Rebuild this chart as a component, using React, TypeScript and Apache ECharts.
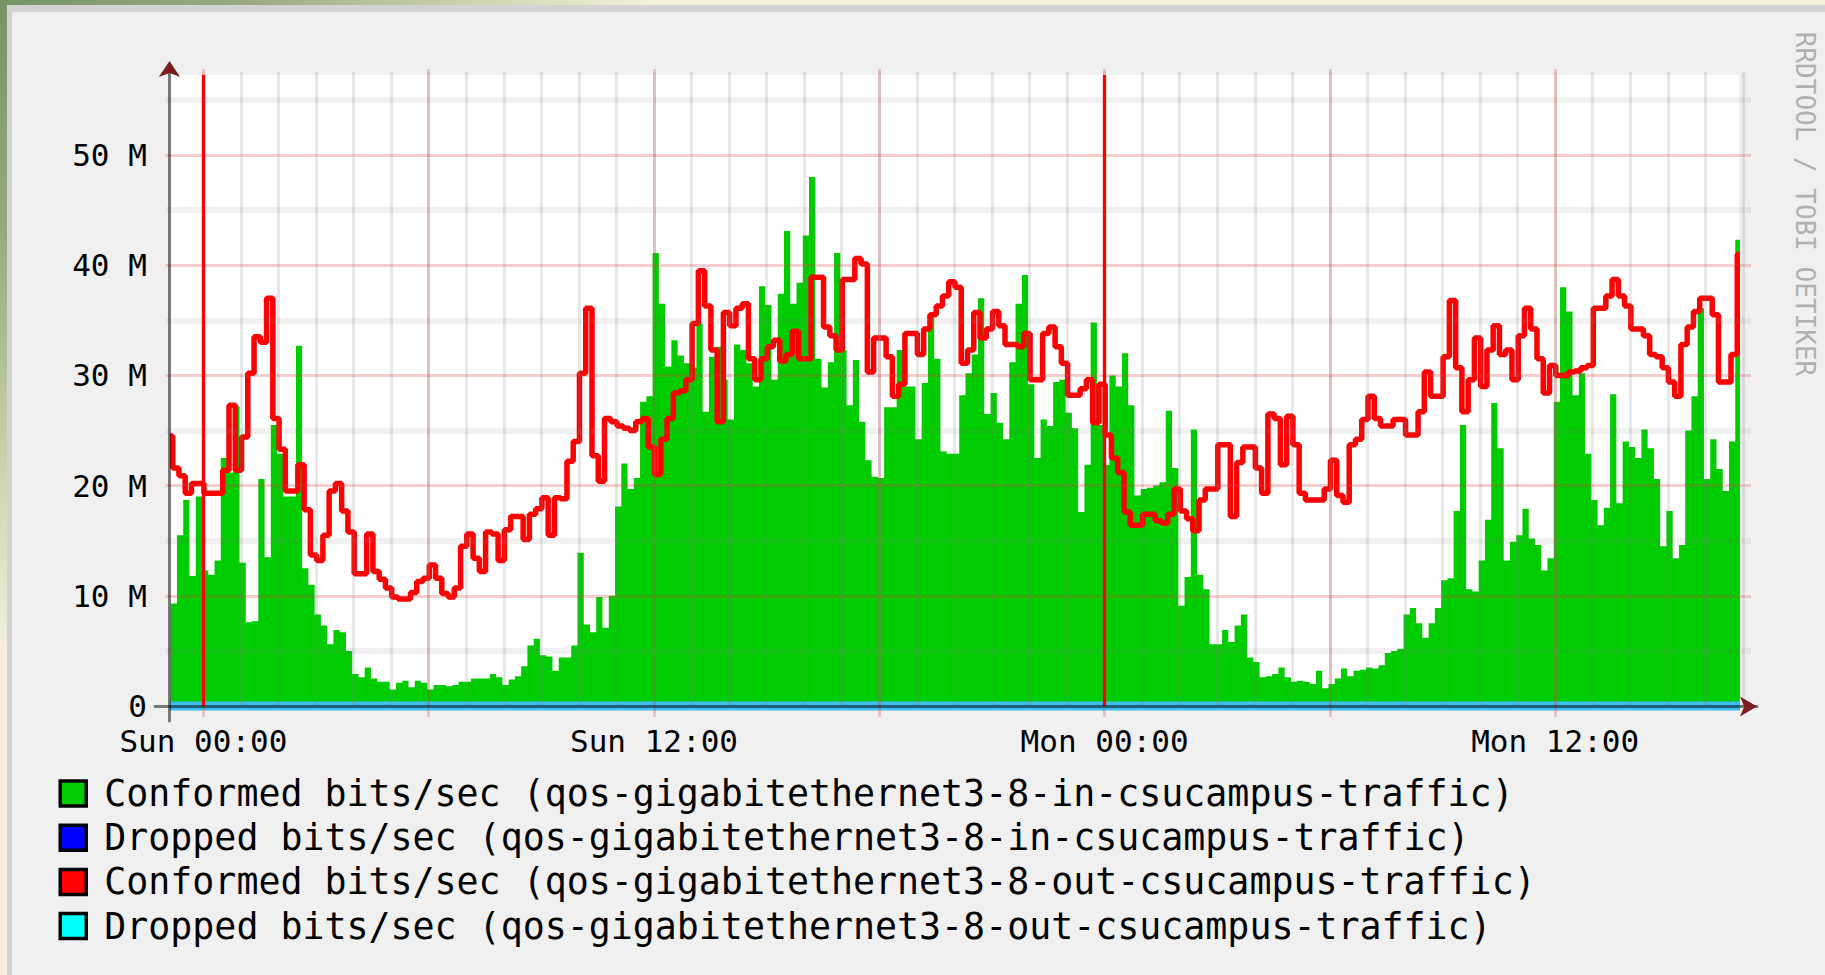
import React, { useEffect, useRef } from "react";
import * as echarts from "echarts";

// ---- time axis (hours relative to Sun 00:00) ----
const STEP_H = 1 / 6; // 10-minute consolidation step
const GREEN_T0 = -0.871; // start of first "in" bin
const RED_T0 = -0.818; // start of first "out" bin
const T_START = -0.893; // left edge of the graph
const T_END = 40.92; // right edge of the data
const RED_START = 24.5; // first "out" value, before RED_T0

const X_TICK_HOURS = [0, 12, 24, 36];
const X_TICK_LABELS = ["Sun 00:00", "Sun 12:00", "Mon 00:00", "Mon 12:00"];

const Y_MAX = 57.26; // Mbit/s at the top edge
const Y_LABEL_UNIT = " M";

const SERIES_NAMES = [
  "Conformed bits/sec (qos-gigabitethernet3-8-in-csucampus-traffic)",
  "Dropped bits/sec (qos-gigabitethernet3-8-in-csucampus-traffic)",
  "Conformed bits/sec (qos-gigabitethernet3-8-out-csucampus-traffic)",
  "Dropped bits/sec (qos-gigabitethernet3-8-out-csucampus-traffic)",
];

// Conformed in (Mbit/s), one value per 10 minutes
const CONFORMED_IN = [
  9.3, 15.5, 18.7, 11.8, 19.0, 12.3, 11.9, 13.2, 22.5, 21.2,
  27.2, 13.0, 7.6, 7.7, 20.6, 13.5, 25.5, 22.9, 19.0, 19.0,
  32.7, 12.5, 11.0, 8.3, 7.3, 5.6, 6.9, 6.7, 5.0, 2.9,
  2.6, 3.5, 2.5, 2.2, 2.2, 1.5, 2.1, 2.3, 1.7, 2.3,
  2.1, 1.5, 1.9, 1.9, 1.8, 1.9, 2.2, 2.2, 2.5, 2.5,
  2.5, 2.9, 2.6, 1.9, 2.4, 2.7, 3.6, 5.5, 6.1, 4.6,
  4.5, 3.2, 4.4, 4.4, 5.5, 13.9, 7.4, 6.7, 9.9, 7.1,
  10.0, 18.1, 22.0, 19.7, 20.7, 27.6, 28.1, 41.1, 36.5, 30.8,
  33.2, 31.8, 31.1, 30.7, 34.7, 26.7, 31.7, 32.6, 29.6, 26.0,
  32.8, 32.3, 31.1, 29.0, 38.1, 36.4, 29.6, 37.4, 43.1, 36.5,
  38.4, 42.7, 48.0, 31.5, 28.9, 31.2, 41.1, 32.3, 27.3, 31.4,
  25.8, 22.3, 20.8, 20.7, 27.1, 27.1, 32.3, 29.0, 29.0, 24.2,
  29.3, 35.4, 31.5, 23.1, 22.9, 22.9, 28.2, 30.2, 31.9, 37.0,
  26.5, 28.4, 25.7, 24.2, 31.2, 36.5, 39.1, 29.2, 22.5, 26.0,
  25.4, 29.4, 29.6, 26.6, 25.2, 17.6, 21.9, 34.8, 25.5, 21.9,
  30.0, 29.0, 32.0, 27.3, 19.1, 19.7, 19.8, 20.0, 20.3, 26.8,
  21.6, 9.1, 11.7, 25.1, 11.9, 10.6, 5.6, 5.6, 6.9, 5.8,
  7.3, 8.3, 4.4, 4.0, 2.6, 2.7, 2.9, 3.5, 2.6, 2.2,
  2.3, 2.2, 2.0, 3.2, 1.6, 2.0, 2.5, 3.4, 2.7, 3.2,
  3.3, 3.5, 3.4, 3.7, 4.8, 5.0, 5.2, 8.3, 8.9, 7.5,
  6.2, 7.5, 8.9, 11.4, 11.6, 17.7, 25.5, 10.6, 10.4, 13.2,
  16.9, 27.5, 23.4, 13.2, 14.9, 15.5, 17.9, 15.2, 14.6, 12.3,
  13.4, 27.6, 38.0, 35.8, 28.2, 30.2, 22.9, 18.7, 16.4, 18.0,
  28.3, 18.4, 24.0, 23.5, 22.5, 25.1, 23.4, 20.6, 14.5, 17.7,
  13.4, 14.6, 25.0, 28.1, 36.1, 20.6, 24.2, 21.5, 19.5, 24.0,
  42.3,
];

// Conformed out (Mbit/s), one value per 10 minutes
const CONFORMED_OUT = [
  21.6, 20.9, 19.3, 20.2, 20.2, 19.3, 19.3, 19.3, 21.4, 27.3,
  21.4, 24.4, 30.2, 33.5, 33.0, 37.0, 26.1, 23.3, 19.5, 19.5,
  21.9, 17.8, 13.7, 13.2, 15.5, 19.5, 20.2, 17.7, 15.8, 12.0,
  12.0, 15.6, 12.2, 11.5, 10.7, 9.9, 9.7, 9.7, 10.3, 11.3,
  11.6, 12.8, 11.6, 10.2, 9.9, 10.7, 14.5, 15.6, 13.4, 12.2,
  15.8, 15.6, 13.2, 16.0, 17.2, 17.2, 15.1, 17.4, 17.9, 18.9,
  15.5, 18.9, 18.8, 22.2, 24.0, 30.2, 36.1, 22.7, 20.4, 26.1,
  25.8, 25.4, 25.2, 25.0, 25.8, 26.1, 23.5, 21.0, 24.2, 26.1,
  28.4, 28.6, 29.6, 34.7, 39.5, 36.3, 32.3, 25.8, 35.7, 34.5,
  36.1, 36.5, 31.5, 29.6, 31.5, 32.6, 33.2, 31.3, 31.9, 34.0,
  31.5, 31.5, 38.9, 38.9, 34.4, 33.6, 32.3, 38.7, 38.7, 40.6,
  40.1, 30.3, 33.4, 33.4, 31.7, 28.1, 29.2, 33.8, 33.8, 31.9,
  34.2, 35.5, 36.3, 37.2, 38.5, 38.0, 31.1, 32.3, 35.7, 33.4,
  34.2, 35.8, 34.5, 32.8, 32.8, 32.6, 33.8, 29.6, 29.6, 33.8,
  34.4, 32.6, 31.1, 28.2, 28.2, 28.8, 29.6, 25.7, 29.2, 24.6,
  22.5, 21.2, 17.6, 16.4, 16.4, 17.4, 17.4, 16.8, 16.6, 17.4,
  19.7, 17.7, 17.0, 15.9, 18.7, 19.7, 19.7, 23.7, 23.7, 17.2,
  22.1, 23.5, 23.5, 21.6, 19.3, 26.5, 26.1, 21.9, 26.3, 23.7,
  19.3, 18.7, 18.7, 18.7, 19.7, 22.3, 19.1, 18.5, 23.7, 24.2,
  26.0, 28.1, 26.1, 25.4, 25.4, 26.0, 26.0, 24.6, 24.6, 26.7,
  30.3, 28.1, 28.1, 31.7, 36.8, 30.7, 26.7, 29.6, 33.4, 29.0,
  32.3, 34.5, 31.9, 32.3, 29.6, 33.6, 36.1, 34.2, 31.5, 28.4,
  30.9, 30.0, 30.0, 30.3, 30.4, 30.7, 30.9, 36.1, 36.1, 37.2,
  38.7, 37.2, 36.3, 34.2, 34.2, 33.6, 31.9, 31.7, 30.7, 29.4,
  28.1, 32.8, 34.4, 35.8, 37.0, 37.0, 35.5, 29.4, 29.4, 31.9,
  41.0,
];

// Dropped traffic was zero for the whole period
const DROPPED_LEVEL = 0;

// ---- colours ----
const C_GREEN = "#00cc00";
const C_BLUE = "#0000ff";
const C_RED = "#ff0000";
const C_CYAN = "#00ffff";
const C_DROP_LINE = "#3dbdf0";
const C_MGRID = "rgba(220,60,60,0.25)";
const C_GRID = "rgba(128,128,128,0.18)";
const C_MINOR = "rgba(128,128,128,0.11)";
const C_AXIS = "rgba(0,0,0,0.5)";
const C_ARROW = "#7d1e1e";
const FONT = "DejaVu Sans Mono";

// ---- layout ----
const PLOT_RIGHT = 74; // px from right edge of the page
const X_MAX_H = 41.215; // hour value at the right end of the grids

function buildOption() {
  const inData: number[][] = CONFORMED_IN.map((v, i) => [GREEN_T0 + i * STEP_H, v]);
  inData.push([T_END, CONFORMED_IN[CONFORMED_IN.length - 1]]);

  const outData: number[][] = [[T_START, RED_START]];
  CONFORMED_OUT.forEach((v, i) => outData.push([RED_T0 + i * STEP_H, v]));
  outData.push([T_END, CONFORMED_OUT[CONFORMED_OUT.length - 1]]);

  const dropData = [
    [T_START, DROPPED_LEVEL],
    [T_END, DROPPED_LEVEL],
  ];

  const hidden = { show: false };
  const bare = {
    axisLine: { show: false },
    axisTick: { show: false },
    axisLabel: { show: false },
  };

  return {
    animation: false,
    backgroundColor: "transparent",
    grid: [
      { left: 165.85, right: PLOT_RIGHT, top: 75, bottom: 269 }, // 0 main plot (x from -1 h)
      { left: 203.4, right: PLOT_RIGHT, top: 69, bottom: 258 }, // 1 six-hour lines (x from 0 h)
      { left: 203.4, right: PLOT_RIGHT, top: 75, bottom: 269 }, // 2 midnight lines
      { left: 203.4, right: PLOT_RIGHT, top: 75, bottom: 269 }, // 3 time labels
      { left: 165.85, right: PLOT_RIGHT, top: 72, bottom: 269 }, // 4 hourly lines
      { left: 169.5, right: PLOT_RIGHT, top: 69, bottom: 254 }, // 5 y axis line
      { left: 155, right: 68, top: 75, bottom: 268.5 }, // 6 x axis line
    ],
    xAxis: [
      { gridIndex: 0, type: "value", position: "bottom", min: -1, max: X_MAX_H, ...bare, splitLine: { show: false } },
      {
        gridIndex: 1, type: "value", position: "bottom", min: 0, max: X_MAX_H, interval: 6, z: 5, ...bare,
        splitLine: { show: true, showMinLine: true, showMaxLine: false, lineStyle: { color: C_MGRID, width: 3 } },
      },
      {
        gridIndex: 2, type: "value", position: "bottom", min: 0, max: X_MAX_H, interval: 24, z: 6, ...bare,
        splitLine: { show: true, showMinLine: true, showMaxLine: false, lineStyle: { color: C_RED, width: 3.3 } },
      },
      {
        gridIndex: 3, type: "value", position: "bottom", min: 0, max: X_MAX_H, interval: 12,
        axisLine: { show: false }, axisTick: { show: false }, splitLine: { show: false },
        axisLabel: {
          show: true, margin: 19, showMinLabel: true, showMaxLabel: false,
          fontFamily: FONT, fontSize: 31, color: "#000",
          formatter: (v: number) => {
            const i = X_TICK_HOURS.indexOf(v);
            return i >= 0 ? X_TICK_LABELS[i] : "";
          },
        },
      },
      {
        gridIndex: 4, type: "value", position: "bottom", min: -1, max: X_MAX_H, interval: 1, z: 5, ...bare,
        splitLine: { show: true, showMinLine: false, showMaxLine: false, lineStyle: { color: C_GRID, width: 3 } },
      },
      { gridIndex: 5, type: "value", position: "bottom", min: 0, max: 1, ...hidden },
      {
        gridIndex: 6, type: "value", position: "bottom", min: 0, max: 1, z: 7,
        axisLine: { show: true, onZero: false, lineStyle: { color: C_AXIS, width: 3 } },
        axisTick: { show: false }, axisLabel: { show: false }, splitLine: { show: false },
      },
      {
        gridIndex: 6, type: "value", position: "bottom", offset: 0, min: 0, max: 1, z: 8,
        axisLine: {
          show: true, onZero: false, lineStyle: { color: C_ARROW, width: 0 },
          symbol: ["none", "arrow"], symbolSize: [15, 17], symbolOffset: [0, 0],
        },
        axisTick: { show: false }, axisLabel: { show: false }, splitLine: { show: false },
      },
    ],
    yAxis: [
      {
        gridIndex: 0, type: "value", position: "left", min: 0, max: Y_MAX, interval: 10, z: 5,
        axisLine: { show: false }, axisTick: { show: false },
        axisLabel: {
          show: true, margin: 19, showMaxLabel: false,
          fontFamily: FONT, fontSize: 31, color: "#000", padding: [0, 0, 10, 0],
          formatter: (v: number) => (v === 0 ? "0" : `${v}${Y_LABEL_UNIT}`),
        },
        splitLine: { show: true, showMinLine: false, showMaxLine: false, lineStyle: { color: C_MGRID, width: 3 } },
      },
      {
        gridIndex: 0, type: "value", position: "left", min: 0, max: Y_MAX, interval: 5, z: 4, ...bare,
        splitLine: { show: true, lineStyle: { color: ["rgba(0,0,0,0)", C_MINOR], width: 6 } },
      },
      { gridIndex: 1, type: "value", position: "left", min: 0, max: 1, ...hidden },
      { gridIndex: 2, type: "value", position: "left", min: 0, max: 1, ...hidden },
      { gridIndex: 3, type: "value", position: "left", min: 0, max: 1, ...hidden },
      { gridIndex: 4, type: "value", position: "left", min: 0, max: 1, ...hidden },
      {
        gridIndex: 5, type: "value", position: "left", min: 0, max: 1, z: 7,
        axisLine: { show: true, onZero: false, lineStyle: { color: C_AXIS, width: 3 } },
        axisTick: { show: false }, axisLabel: { show: false }, splitLine: { show: false },
      },
      {
        gridIndex: 5, type: "value", position: "left", offset: 0, min: 0, max: 1, z: 8,
        axisLine: {
          show: true, onZero: false, lineStyle: { color: C_ARROW, width: 0 },
          symbol: ["none", "arrow"], symbolSize: [16, 16], symbolOffset: [0, 8],
        },
        axisTick: { show: false }, axisLabel: { show: false }, splitLine: { show: false },
      },
      { gridIndex: 6, type: "value", position: "left", min: 0, max: 1, ...hidden },
    ],
    legend: {
      orient: "vertical",
      left: 58.5,
      top: 775,
      padding: 0,
      itemWidth: 26,
      itemHeight: 25,
      itemGap: 7.2,
      icon: "rect",
      selectedMode: false,
      itemStyle: { borderColor: "#000", borderWidth: 3.5 },
      textStyle: { fontFamily: FONT, fontSize: 36.6, color: "#000", padding: [0, 0, 0, 13] },
      data: SERIES_NAMES,
    },
    graphic: {
      elements: [
        {
          type: "rect", z: -10, silent: true,
          shape: { x: 170.5, y: 75, width: 1568.5, height: 631 },
          style: { fill: "#ffffff" },
        },
        {
          type: "text", x: 1805, y: 204, rotation: -Math.PI / 2, silent: true,
          style: {
            text: "RRDTOOL / TOBI OETIKER",
            font: `26px "${FONT}"`,
            fill: "#b0b0b0",
            textAlign: "center", textVerticalAlign: "middle",
            align: "center", verticalAlign: "middle",
          },
        },
      ],
    },
    series: [
      {
        name: SERIES_NAMES[0], type: "line", xAxisIndex: 0, yAxisIndex: 0,
        step: "end", symbol: "none", data: inData, z: 2,
        color: C_GREEN, itemStyle: { color: C_GREEN },
        lineStyle: { width: 0, color: C_GREEN },
        areaStyle: { color: C_GREEN, opacity: 1 },
      },
      {
        name: SERIES_NAMES[1], type: "line", xAxisIndex: 0, yAxisIndex: 0,
        symbol: "none", data: dropData, z: 2, clip: false,
        color: C_BLUE, itemStyle: { color: C_BLUE },
        lineStyle: { width: 0, color: C_BLUE },
      },
      {
        name: SERIES_NAMES[2], type: "line", xAxisIndex: 0, yAxisIndex: 0,
        step: "end", symbol: "none", data: outData, z: 3,
        color: C_RED, itemStyle: { color: C_RED },
        lineStyle: { width: 5.5, color: C_RED },
      },
      {
        name: SERIES_NAMES[3], type: "line", xAxisIndex: 0, yAxisIndex: 0,
        symbol: "none", data: dropData, z: 3, clip: false,
        color: C_CYAN, itemStyle: { color: C_CYAN },
        lineStyle: { width: 9, color: C_DROP_LINE },
      },
    ],
  };
}

export default function App() {
  const ref = useRef<HTMLDivElement>(null);
  useEffect(() => {
    if (!ref.current) return;
    const chart = echarts.init(ref.current, undefined, { renderer: "svg" });
    chart.setOption(buildOption() as any);
    return () => chart.dispose();
  }, []);
  return (
    <div
      style={{
        position: "fixed", left: 0, top: 0, width: 1825, height: 975, overflow: "hidden",
        background:
          "radial-gradient(circle at 0px 0px, #779364 0px, #9aac80 250px, #c8d0a8 450px, #f2f0dc 650px)",
      }}
    >
      <div style={{ position: "absolute", left: 7, top: 5, right: 0, bottom: 0, background: "#d3d3d3" }} />
      <div style={{ position: "absolute", left: 12, top: 12, right: 0, bottom: 0, background: "#f0f0f0" }} />
      <div ref={ref} style={{ position: "absolute", left: 0, top: 0, width: 1825, height: 975 }} />
    </div>
  );
}
